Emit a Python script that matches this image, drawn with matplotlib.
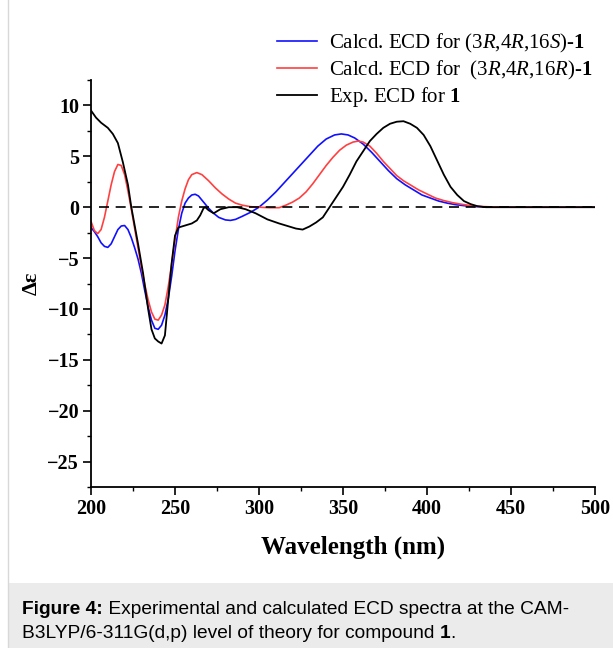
import numpy as np
import matplotlib
matplotlib.use("Agg")
import matplotlib.pyplot as plt
from matplotlib.patches import Rectangle
from matplotlib.text import Annotation
from matplotlib.ticker import MultipleLocator

plt.rcParams.update({
    "font.family": "Liberation Serif",
    "mathtext.fontset": "custom",
    "mathtext.rm": "Liberation Serif",
    "mathtext.it": "Liberation Serif:italic",
    "mathtext.bf": "Liberation Serif:bold",
})

# experimental ECD
wl_exp = [200, 203, 206, 210, 213, 216, 219, 222, 224, 226, 228, 231, 234, 236, 238, 240, 242,
          244, 246, 248, 250, 252, 256, 260, 263, 265, 267, 268, 270, 273, 277, 282, 287, 292,
          298, 305, 312, 318, 322, 326, 330, 334, 338, 342, 346, 350, 354, 358, 362, 366, 370,
          374, 378, 382, 386, 390, 394, 398, 402, 406, 410, 414, 418, 422, 426, 430, 435, 450,
          475, 500]
de_exp = [9.5, 8.8, 8.3, 7.8, 7.2, 6.3, 4.4, 2.2, 0.0, -1.8, -3.6, -6.5, -10.0, -12.0, -12.9,
          -13.2, -13.4, -12.6, -9.0, -5.5, -2.8, -2.0, -1.8, -1.6, -1.3, -0.8, -0.1, 0.0, -0.3,
          -0.6, -0.2, 0.0, 0.0, -0.2, -0.6, -1.2, -1.6, -1.9, -2.1, -2.2, -1.9, -1.5, -1.0, 0.0,
          1.0, 2.0, 3.2, 4.5, 5.5, 6.5, 7.2, 7.8, 8.2, 8.4, 8.45, 8.2, 7.8, 7.1, 6.0, 4.6, 3.2,
          2.0, 1.2, 0.6, 0.3, 0.1, 0.0, 0.0, 0.0, 0.0]

# calculated (3R,4R,16S)
wl_s = [200, 202, 204, 206, 208, 210, 212, 214, 216, 218, 220, 222, 224, 226, 228, 230, 232,
        234, 236, 238, 240, 242, 244, 246, 248, 250, 252, 254, 256, 258, 260, 262, 264, 266,
        268, 270, 273, 276, 280, 283, 286, 290, 295, 300, 305, 310, 315, 320, 325, 330, 335,
        340, 345, 349, 353, 357, 362, 367, 372, 377, 382, 387, 392, 397, 402, 407, 412, 417,
        422, 430, 440, 500]
de_s = [-2.0, -2.4, -2.9, -3.5, -3.85, -3.95, -3.6, -2.9, -2.2, -1.85, -1.8, -2.2, -3.0, -4.0,
        -5.1, -6.5, -8.2, -9.8, -11.1, -11.9, -12.0, -11.6, -10.6, -9.0, -6.8, -4.3, -2.2, -0.6,
        0.4, 0.9, 1.2, 1.27, 1.1, 0.7, 0.3, -0.1, -0.6, -1.0, -1.25, -1.3, -1.2, -0.9, -0.5, 0.0,
        0.7, 1.5, 2.4, 3.3, 4.2, 5.1, 6.0, 6.7, 7.1, 7.2, 7.1, 6.8, 6.2, 5.4, 4.5, 3.6, 2.8,
        2.2, 1.7, 1.2, 0.9, 0.6, 0.4, 0.25, 0.15, 0.05, 0.0, 0.0]

# calculated (3R,4R,16R)
wl_r = [200, 202, 204, 206, 208, 210, 212, 214, 216, 218, 220, 222, 224, 226, 228, 230, 232,
        234, 236, 238, 240, 242, 244, 246, 248, 250, 252, 254, 256, 258, 260, 263, 266, 270,
        274, 278, 282, 286, 290, 295, 300, 306, 312, 316, 320, 324, 328, 332, 336, 340, 344,
        348, 352, 356, 359, 362, 366, 370, 374, 378, 382, 386, 390, 395, 400, 405, 410, 415,
        420, 425, 430, 440, 450, 500]
de_r = [-1.4, -2.3, -2.6, -2.2, -1.0, 0.6, 2.2, 3.5, 4.2, 4.1, 3.2, 1.6, -0.2, -2.1, -4.0,
        -5.9, -7.6, -9.1, -10.3, -11.0, -11.1, -10.6, -9.6, -7.8, -5.6, -3.2, -1.0, 0.6, 1.8,
        2.7, 3.2, 3.4, 3.2, 2.6, 1.9, 1.3, 0.8, 0.4, 0.2, 0.05, 0.0, -0.05, -0.05, 0.2, 0.5, 0.9,
        1.5, 2.3, 3.2, 4.1, 4.9, 5.6, 6.1, 6.4, 6.5, 6.4, 6.0, 5.3, 4.5, 3.8, 3.1, 2.6, 2.2,
        1.7, 1.3, 0.9, 0.65, 0.45, 0.3, 0.18, 0.08, 0.02, 0.0, 0.0]

labels = [r"Calcd. ECD for (3$\mathit{R}$,4$\mathit{R}$,16$\mathit{S}$)-$\mathbf{1}$",
          r"Calcd. ECD for  (3$\mathit{R}$,4$\mathit{R}$,16$\mathit{R}$)-$\mathbf{1}$",
          r"Exp. ECD for $\mathbf{1}$"]

fig = plt.figure(figsize=(6.13, 6.48), dpi=100)
ax = fig.add_axes([91/613, 1-487/648, 504/613, 407/648])

l1, = ax.plot(wl_s, de_s, color="#1010ff", lw=1.2)
l2, = ax.plot(wl_r, de_r, color="#ff4040", lw=1.2)
l3, = ax.plot(wl_exp, de_exp, color="black", lw=1.3)
ax.axhline(0, xmin=0.015, xmax=1, color="black", lw=1.2, ls=(0, (6, 4)))

ax.set_xlim(200, 500)
ax.set_ylim(-27.5, 12.5)
ax.xaxis.set_major_locator(MultipleLocator(50))
ax.xaxis.set_minor_locator(MultipleLocator(25))
ax.yaxis.set_major_locator(MultipleLocator(5))
ax.yaxis.set_minor_locator(MultipleLocator(2.5))
for s in ["top", "right"]:
    ax.spines[s].set_visible(False)
for s in ["left", "bottom"]:
    ax.spines[s].set_linewidth(1.3)
ax.tick_params(which="major", direction="out", length=5.5, width=1.2, labelsize=14.5, pad=3)
ax.tick_params(which="minor", direction="out", length=3, width=1.0)
for t in ax.get_xticklabels():
    t.set_fontweight("bold")
ax.set_yticks([10, 5, 0, -5, -10, -15, -20, -25])
ax.set_yticklabels(["10", "5", "0", "\u22125", "\u221210", "\u221215", "\u221220", "\u221225"],
                   fontweight="bold", fontsize=14.5)
ax.set_xlabel("Wavelength (nm)", fontsize=18, fontweight="bold")
ax.xaxis.set_label_coords(0.52, -0.12)
ax.set_ylabel("\u0394\u03b5", fontsize=16, fontweight="bold")
ax.yaxis.set_label_coords(-0.097, 0.5)

fig.legend([l1, l2, l3], labels, loc="upper left", bbox_to_anchor=(277/613, 1-32/648),
           frameon=False, fontsize=15, handlelength=1.92, handletextpad=0.58,
           labelspacing=0.17, borderpad=0, borderaxespad=0)

# caption area
fig.patches.append(Rectangle((8/613, 0), 1, 65/648, transform=fig.transFigure,
                             facecolor="#ebebeb", edgecolor="none", zorder=0))
fig.add_artist(plt.Line2D([8/613, 8/613], [0, 1], transform=fig.transFigure,
                          color="#d8d8d8", lw=1))
cap = dict(fontsize=13.8, family="Liberation Sans", va="bottom")
t = fig.text(22/613, 1-618/648, "Figure 4:", fontweight="bold", **cap)
fig.add_artist(Annotation(" Experimental and calculated ECD spectra at the CAM-",
                          xy=(1, 0), xycoords=t, **cap))
t3 = fig.text(22/613, 1-642/648, "B3LYP/6-311G(d,p) level of theory for compound ", **cap)
t4 = fig.add_artist(Annotation("1", xy=(1, 0), xycoords=t3, fontweight="bold", **cap))
fig.add_artist(Annotation(".", xy=(1, 0), xycoords=t4, **cap))

fig.savefig("out.png", dpi=100)
